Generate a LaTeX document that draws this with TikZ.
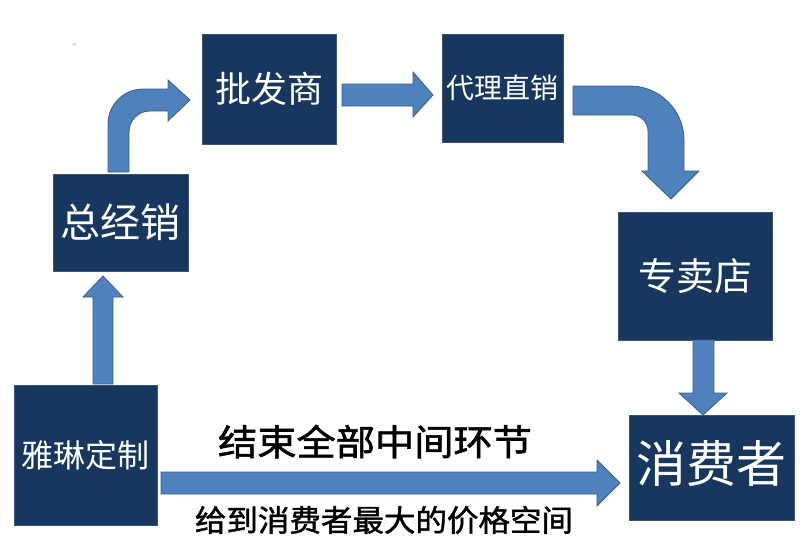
\documentclass[tikz,border=0pt]{standalone}
\usepackage{fontspec}
\newfontfamily\cjk{Noto Sans CJK SC}
\newfontfamily\cjkcap[FakeBold=1.5]{Noto Sans CJK SC}
\newfontfamily\symfont{DejaVu Sans}
\definecolor{boxnavy}{HTML}{17375E}
\definecolor{arrfill}{HTML}{4F81BD}
\definecolor{arrline}{HTML}{3A5F8C}
\begin{document}
\begin{tikzpicture}[x=1pt,y=-1pt,
  box/.style={fill=boxnavy, draw=boxnavy!85!white, line width=0.6pt, text=white, inner sep=0pt, font=\cjk},
  barrow/.style={fill=arrfill, draw=arrline, line width=0.8pt, line join=miter},
  caption/.style={text=black, inner sep=0pt, font=\cjkcap}]
\fill[white] (0,0) rectangle (800,550);
\useasboundingbox (0,0) rectangle (800,550);

% boxes
\node[box, minimum width=143, minimum height=140] (ylin) at (85.5,455) {\fontsize{32}{34}\selectfont 雅琳定制};
\node[box, minimum width=135, minimum height=97] (zjx) at (120.5,222.5) {\fontsize{40}{42}\selectfont 总经销};
\node[box, minimum width=134, minimum height=110] (pfs) at (269,89) {\fontsize{36}{38}\selectfont 批发商};
\node[box, minimum width=121, minimum height=108] (dlzx) at (502.5,88) {\fontsize{28}{30}\selectfont 代理直销};
\node[box, minimum width=154, minimum height=128] (zmd) at (695,276) {\fontsize{38}{40}\selectfont 专卖店};
\node[box, minimum width=165, minimum height=105] (xfz) at (711.5,467.5) {};
\node[text=white, inner sep=0pt, font=\cjk] (xfzt) at (xfz.center) [yshift=4pt] {\fontsize{50}{52}\selectfont 消费者};

% block arrows
% 雅琳定制 -> 总经销
\draw[barrow] (93,384) -- (93,297) -- (83,297) -- (103,276) -- (123,297) -- (113,297) -- (113,384) -- cycle;
% 总经销 -> 批发商 (bent)
\draw[barrow] (108,172) -- (108,124) .. controls (108,104.7) and (123.7,89) .. (143,89)
  -- (168,89) -- (168,80) -- (190,100) -- (168,121) -- (168,111) -- (150,111)
  .. controls (138.4,111) and (129,120.4) .. (129,132) -- (129,172) -- cycle;
% 批发商 -> 代理直销
\draw[barrow] (342,84) -- (413,84) -- (413,72) -- (433,95) -- (413,117) -- (413,106) -- (342,106) -- cycle;
% 代理直销 -> 专卖店 (curved)
\draw[barrow] (573,86) -- (630,86) .. controls (659.8,86) and (684,110.2) .. (684,140)
  -- (684,171) -- (699,171) -- (671,199) -- (642,171) -- (648,171) -- (648,131)
  .. controls (648,122.2) and (640.8,115) .. (632,115) -- (573,115) -- cycle;
% 专卖店 -> 消费者
\draw[barrow] (693,340) -- (693,393) -- (679,393) -- (703,415) -- (727,393) -- (714,393) -- (714,340) -- cycle;
% 雅琳定制 -> 消费者 (long)
\draw[barrow] (161,472) -- (597,472) -- (597,460) -- (620,483) -- (597,506) -- (597,494) -- (161,494) -- cycle;

% captions
\node[caption] (cap1) at (375,441.5) {\fontsize{36}{38}\selectfont\scalebox{1.09}[1]{结束全部中间环节}};
\node[caption] (cap2) at (384,520) {\fontsize{30}{32}\selectfont\scalebox{1.05}[1]{给到消费者最大的价格空间}};

% paragraph mark
\node[text=black!45, inner sep=0pt, font=\symfont\fontsize{5}{6}\selectfont] (pm) at (75,45) {↵};
\end{tikzpicture}
\end{document}
